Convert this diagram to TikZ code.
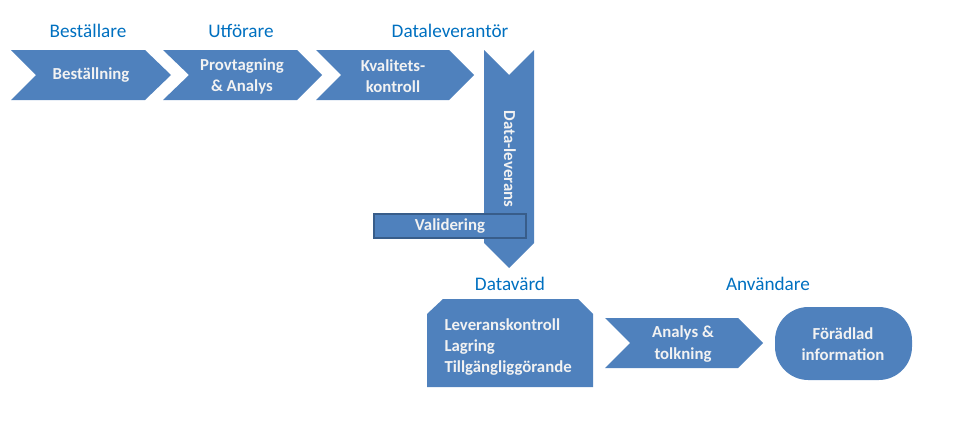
\documentclass[tikz,border=0pt]{standalone}
\usepackage{fontspec}
\setmainfont{Carlito}
\definecolor{boxblue}{RGB}{79,129,189}
\definecolor{rimblue}{RGB}{56,93,138}
\definecolor{lblblue}{RGB}{0,112,192}
\definecolor{txtwhite}{RGB}{242,242,242}
\tikzset{every picture/.style={line width=0.75pt}}
\tikzset{
  box/.style={fill=boxblue, draw=none},
  lbl/.style={text=lblblue, font=\fontsize{14.4}{17}\selectfont, inner sep=0.75pt},
  txt/.style={text=txtwhite, font=\bfseries\fontsize{12.6}{15.8}\selectfont, align=center, inner sep=0.75pt}
}
\begin{document}
\begin{tikzpicture}[x=0.75pt,y=0.75pt,yscale=-1,xscale=1]
		\useasboundingbox (0,0) rectangle (960,429);
		
		%Shape: Chevron [id:bestallning] 
		\draw [box] (11,50) -- (145,50) -- (171,75) -- (145,100) -- (11,100) -- (36,75) -- cycle ;
		%Shape: Chevron [id:provtagning] 
		\draw [box] (163,50) -- (297,50) -- (322,75) -- (297,100) -- (163,100) -- (189,75) -- cycle ;
		%Shape: Chevron [id:kvalitet] 
		\draw [box] (316,50) -- (449,50) -- (474,75) -- (449,100) -- (316,100) -- (341,75) -- cycle ;
		%Shape: Down arrow [id:dataleverans] 
		\draw [box] (484,50) -- (509,75) -- (534,50) -- (534,243) -- (509,268) -- (484,243) -- cycle ;
		%Shape: Rectangle [id:validering] 
		\draw [box, draw=rimblue, line width=1.5pt] (374,214) -- (526,214) -- (526,238) -- (374,238) -- cycle ;
		%Shape: Snipped rectangle [id:datavard] 
		\draw [box] (443,299) -- (578,299) -- (593,314) -- (593,387) -- (427,387) -- (427,314) -- cycle ;
		%Shape: Chevron [id:analys] 
		\draw [box] (605,318) -- (738,318) -- (763,343) -- (738,368) -- (605,368) -- (630,343) -- cycle ;
		%Shape: Rounded rectangle [id:foradlad] 
		\draw [box, rounded corners=25pt] (775,307) -- (912,307) -- (912,380) -- (775,380) -- cycle ;
		
		\node [lbl] (bestallare) at (88,31) {Beställare};
		\node [lbl] (utforare) at (241,31) {Utförare};
		\node [lbl] (leverantor) at (450,31) {Dataleverantör};
		\node [lbl] (datavard) at (510,284) {Datavärd};
		\node [lbl] (anvandare) at (768,284) {Användare};
		
		\node [txt] (tbestallning) at (91,75) {Beställning};
		\node [txt] (tprov) at (242,76) {Provtagning\\\& Analys};
		\node [txt] (tkval) at (393,76) {Kvalitets-\\kontroll};
		\node [txt, rotate=-90] (tlev) at (510,159) {Data-leverans};
		\node [txt] (tvalid) at (450,226) {Validering};
		\node [txt, align=left, anchor=west] (tdatavard) at (443,347) {Leveranskontroll\\Lagring\\Tillgängliggörande};
		\node [txt] (tanalys) at (683,344) {Analys \&\\tolkning};
		\node [txt] (tforadlad) at (843,344) {Förädlad\\information};
		
	\end{tikzpicture}
\end{document}
